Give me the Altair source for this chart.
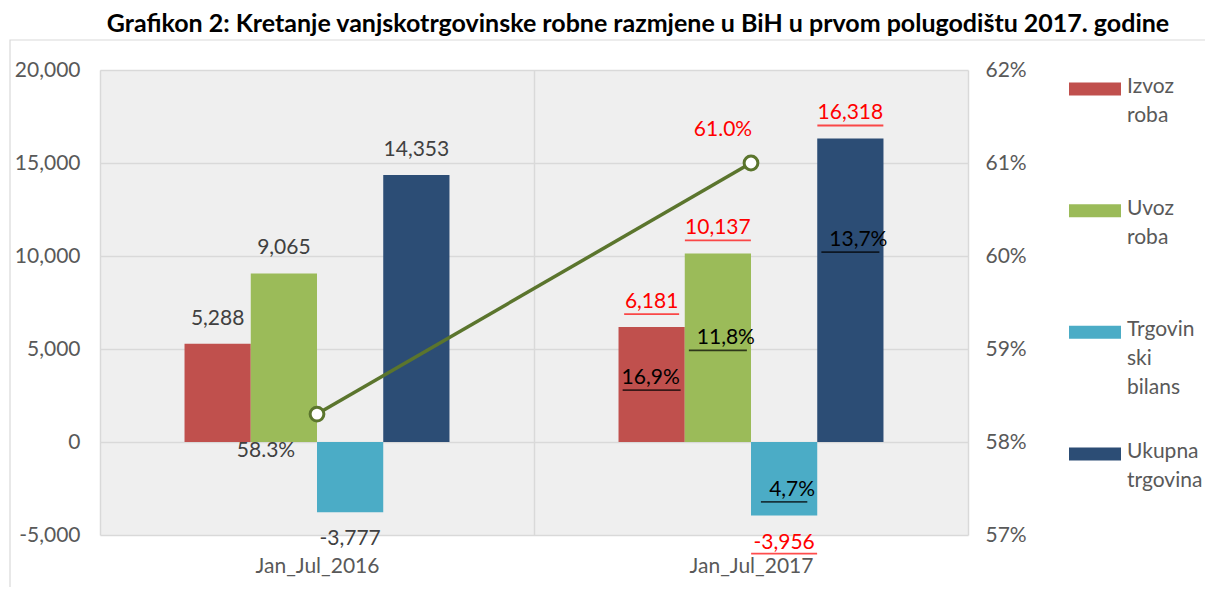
import altair as alt
import pandas as pd

categories = ["Jan_Jul_2016", "Jan_Jul_2017"]
series = ["Izvoz roba", "Uvoz roba", "Trgovinski bilans", "Ukupna trgovina"]
legend_labels = ["Izvoz\nroba", "Uvoz\nroba", "Trgovin\nski\nbilans", "Ukupna\ntrgovina"]
colors = ["#C0504D", "#9BBB59", "#4BACC6", "#2C4D75"]
values_2016 = [5288, 9065, -3777, 14353]
values_2017 = [6181, 10137, -3956, 16318]
growth_2017 = ["16,9%", "11,8%", "4,7%", "13,7%"]
coverage = [0.583, 0.610]
coverage_labels = ["58.3%", "61.0%"]
title_text = "Grafikon 2: Kretanje vanjskotrgovinske robne razmjene u BiH u prvom polugodištu 2017. godine"

FONT = "Lato"
FS = 21
W, H = 868, 465
LINE_COLOR = "#5B752D"

rows = []
for cat, vals in zip(categories, [values_2016, values_2017]):
    for i, (s, v) in enumerate(zip(series, vals)):
        rows.append({
            "cat": cat, "series": s, "value": v,
            "label": f"{v:,}",
            "growth": growth_2017[i] if cat == categories[1] else "",
        })
bars_df = pd.DataFrame(rows)
line_df = pd.DataFrame({"cat": categories, "cov": coverage, "lab": coverage_labels})
leg_df = pd.DataFrame({"series": series, "lab": legend_labels, "color": colors})

xenc = alt.X("cat:N", sort=categories, title=None,
             scale=alt.Scale(paddingInner=0, paddingOuter=0),
             axis=alt.Axis(labelAngle=0, ticks=False, domain=False, grid=True,
                           tickBand="extent", gridColor="#D9D9D9", gridWidth=1.5,
                           labelPadding=20, labelFontSize=FS, labelColor="#595959",
                           labelFont=FONT))
# empty slots at both ends of each group give Excel's gap between bar groups
offset_domain = ["_gap_left"] + series + ["_gap_right"]
xoff = alt.XOffset("series:N",
                   scale=alt.Scale(domain=offset_domain, paddingInner=0, paddingOuter=0.276))
yscale = alt.Scale(domain=[-5000, 20000], nice=False, zero=False)

def yv(field="value", axis=None):
    return alt.Y(f"{field}:Q", scale=yscale, title=None, axis=axis)

base = alt.Chart(bars_df)

bars = base.mark_bar().encode(
    x=xenc, xOffset=xoff,
    y=yv(axis=alt.Axis(values=[-5000, 0, 5000, 10000, 15000, 20000],
                       labelExpr="replace(format(datum.value, ','), '\u2212', '-')",
                       ticks=False, domain=False, grid=True,
                       gridColor="#D9D9D9", gridWidth=1.5,
                       labelPadding=20, labelFontSize=FS, labelColor="#595959",
                       labelFont=FONT)),
    color=alt.Color("series:N", sort=series,
                    scale=alt.Scale(domain=series, range=colors), legend=None),
)

is17 = f"datum.cat == '{categories[1]}'"
lab_color = alt.condition(is17, alt.value("#FF0000"), alt.value("#404040"))

pos_labels = base.transform_filter("datum.value >= 0").mark_text(
    dy=-25, fontSize=FS, font=FONT).encode(
    x=xenc, xOffset=xoff, y=yv(), text="label:N", color=lab_color)
neg_labels = base.transform_filter("datum.value < 0").mark_text(
    dy=27, fontSize=FS, font=FONT).encode(
    x=xenc, xOffset=xoff, y=yv(), text="label:N", color=lab_color)

ul = base.transform_filter(is17).transform_calculate(ulen="length(datum.label) * 11")
pos_ul = ul.transform_filter("datum.value >= 0").mark_tick(
    thickness=1.8, color="#FF0000", yOffset=-13).encode(
    x=xenc, xOffset=xoff, y=yv(), size=alt.Size("ulen:Q", scale=None))
neg_ul = ul.transform_filter("datum.value < 0").mark_tick(
    thickness=1.8, color="#FF0000", yOffset=38).encode(
    x=xenc, xOffset=xoff, y=yv(), size=alt.Size("ulen:Q", scale=None))

# growth-rate annotations: placed at a share of each bar's height
gr = base.transform_filter(is17).transform_calculate(
    gy="datum.value * [0.556, 0.55, 0.65, 0.665][indexof(['Izvoz roba','Uvoz roba','Trgovinski bilans','Ukupna trgovina'], datum.series)]",
    glen="length(datum.growth) * 11.6")
is_red = "datum.series == 'Izvoz roba'"
growth_a = gr.transform_filter(is_red).mark_text(dx=-1, fontSize=FS, font=FONT, color="#000000").encode(
    x=xenc, xOffset=xoff, y=yv("gy"), text="growth:N")
growth_b = gr.transform_filter(f"!({is_red})").mark_text(dx=8, fontSize=FS, font=FONT, color="#000000").encode(
    x=xenc, xOffset=xoff, y=yv("gy"), text="growth:N")
growth_ula = gr.transform_filter(is_red).mark_tick(thickness=1.8, color="#000000", yOffset=12, xOffset=-1).encode(
    x=xenc, xOffset=xoff, y=yv("gy"), size=alt.Size("glen:Q", scale=None))
growth_ulb = gr.transform_filter(f"!({is_red})").mark_tick(thickness=1.8, color="#000000", yOffset=12, xOffset=8).encode(
    x=xenc, xOffset=xoff, y=yv("gy"), size=alt.Size("glen:Q", scale=None))

rscale = alt.Scale(domain=[0.57, 0.62], nice=False, zero=False)
lbase = alt.Chart(line_df)
line = lbase.mark_line(color=LINE_COLOR, strokeWidth=3.5).encode(
    x=xenc,
    y=alt.Y("cov:Q", scale=rscale, title=None,
            axis=alt.Axis(orient="right", values=[0.57, 0.58, 0.59, 0.60, 0.61, 0.62],
                          format=".0%", grid=False, ticks=False, domain=False,
                          labelPadding=17, labelFontSize=FS, labelColor="#595959",
                          labelFont=FONT)))
pts = lbase.mark_point(filled=True, fill="white", stroke=LINE_COLOR, strokeWidth=3,
                       size=190, opacity=1).encode(
    x=xenc, y=alt.Y("cov:Q", scale=rscale, axis=None))
cl1 = lbase.transform_filter(f"datum.cat == '{categories[0]}'").mark_text(
    dx=-51, dy=37, fontSize=FS, font=FONT, color="#404040").encode(
    x=xenc, y=alt.Y("cov:Q", scale=rscale, axis=None), text="lab:N")
cl2 = lbase.transform_filter(is17).mark_text(
    dx=-28, dy=-33, fontSize=FS, font=FONT, color="#FF0000").encode(
    x=xenc, y=alt.Y("cov:Q", scale=rscale, axis=None), text="lab:N")

legy = alt.Y("series:N", sort=series, axis=None,
             scale=alt.Scale(type="point", range=[19, 384], padding=0))
lgb = alt.Chart(leg_df)
leg_sym = lgb.mark_point(filled=True, opacity=1, size=2704, strokeWidth=0,
                         shape="M-1,-0.25L1,-0.25L1,0.25L-1,0.25Z").encode(
    x=alt.value(995), y=legy,
    color=alt.Color("color:N", scale=None))
leg_txt = lgb.mark_text(align="left", baseline="top", dy=-13, lineBreak="\n",
                        lineHeight=29, fontSize=FS, font=FONT, color="#595959").encode(
    x=alt.value(1027), y=legy, text="lab:N")
border = alt.Chart(pd.DataFrame({"k": [0]})).mark_rect(
    fill=None, stroke="#D9D9D9", strokeWidth=1.2).encode(
    x=alt.value(-90), x2=alt.value(1115), y=alt.value(-30), y2=alt.value(520))

chart = alt.layer(
    border, bars, line, pts, pos_labels, neg_labels, pos_ul, neg_ul,
    growth_a, growth_b, growth_ula, growth_ulb, cl1, cl2, leg_sym, leg_txt
).resolve_scale(y="independent").properties(
    width=W, height=H,
    title=alt.TitleParams(title_text, font=FONT, fontSize=25, fontWeight="bold",
                          color="#000000", anchor="middle", frame="group",
                          dx=104, offset=2),
    autosize=alt.AutoSizeParams(type="none"),
    padding={"left": 92, "top": 62, "right": 237, "bottom": 52},
).configure_view(fill="#EFEFEF", stroke=None)

chart.save("out.html", embed_options={"renderer": "svg", "actions": False})
